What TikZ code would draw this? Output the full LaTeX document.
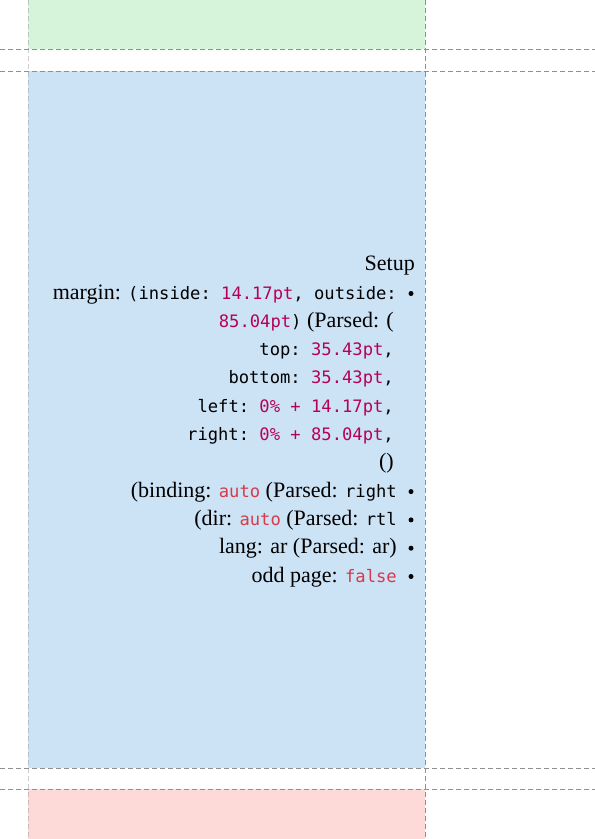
\documentclass[tikz,border=0pt]{standalone}
\usepackage{fontspec}
\setmainfont{Liberation Serif}
\setmonofont[Scale=0.78]{DejaVu Sans Mono}
\usepackage{tikz}
\definecolor{headFill}{HTML}{D6F4DA}
\definecolor{bodyFill}{HTML}{CCE2F5}
\definecolor{footFill}{HTML}{FDD9D8}
\definecolor{guideGray}{HTML}{909090}
\definecolor{numColor}{HTML}{B60157}
\definecolor{kwColor}{HTML}{D73A49}
\newcommand{\tikzScale}{1.0}
\newcommand{\numVal}[1]{{\color{numColor}#1}}
\newcommand{\kwVal}[1]{\texttt{\color{kwColor}#1}}

\begin{document}
\begin{tikzpicture}[x=\tikzScale bp, y=-\tikzScale bp,
   guide/.style={guideGray, line width=1bp, dash pattern=on 5bp off 3bp},
   setupline/.style={anchor=base east, inner sep=0pt, font=\fontsize{22bp}{28bp}\selectfont},
   dotmark/.style={circle, fill=black, inner sep=0pt, minimum size=5bp}]
         \useasboundingbox (0,0) rectangle (595,839);

         \fill[headFill] (28,0) rectangle (425,49);
         \fill[bodyFill] (28,71) rectangle (425,768);
         \fill[footFill] (28,789) rectangle (425,839);

         \draw[guide] (0,49) -- (595,49);
         \draw[guide] (0,71) -- (595,71);
         \draw[guide] (0,768) -- (595,768);
         \draw[guide] (0,789) -- (595,789);
         \draw[guide] (425,0) -- (425,839);
         \draw[guide, opacity=.45] (28,0) -- (28,839);

         \node[setupline] (setup) at (415,270.7) {Setup};
         \node[setupline] (margin) at (397,299) {margin: \texttt{(inside: \numVal{14.17pt}, outside:}};
         \node[setupline] (outside) at (394,327.3) {\texttt{\numVal{85.04pt})} (Parsed: (};
         \node[setupline] (top) at (394,355.6) {\texttt{top: \numVal{35.43pt},}};
         \node[setupline] (bottom) at (394,383.9) {\texttt{bottom: \numVal{35.43pt},}};
         \node[setupline] (left) at (394,412.2) {\texttt{left: \numVal{0\% + 14.17pt},}};
         \node[setupline] (right) at (394,440.5) {\texttt{right: \numVal{0\% + 85.04pt},}};
         \node[setupline] (close) at (394,468.8) {()};
         \node[setupline] (binding) at (397,497.1) {(binding: \kwVal{auto} (Parsed: \texttt{right}};
         \node[setupline] (dir) at (397,525.4) {(dir: \kwVal{auto} (Parsed: \texttt{rtl}};
         \node[setupline] (lang) at (397,553.7) {lang: ar (Parsed: ar)};
         \node[setupline] (odd) at (397,582) {odd page: \kwVal{false}};

         \node[dotmark] (dotMargin) at (411,293.5) {};
         \node[dotmark] (dotBinding) at (411,491.6) {};
         \node[dotmark] (dotDir) at (411,519.9) {};
         \node[dotmark] (dotLang) at (411,548.2) {};
         \node[dotmark] (dotOdd) at (411,576.5) {};
      \end{tikzpicture}
\end{document}
